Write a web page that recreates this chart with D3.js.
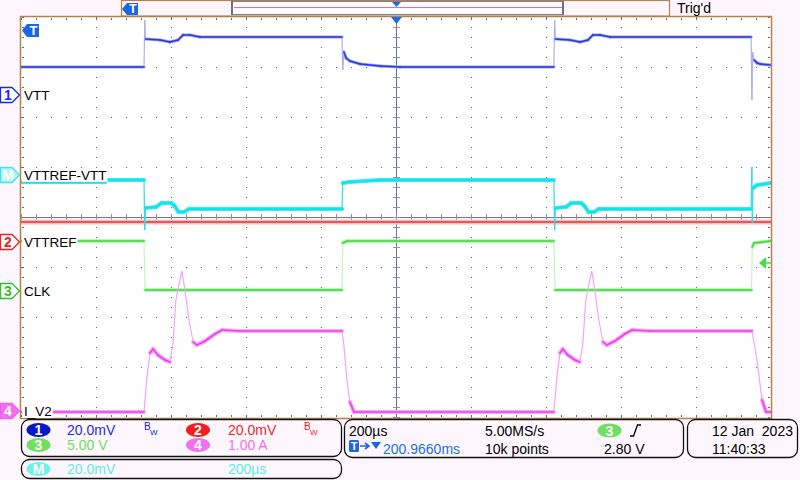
<!DOCTYPE html>
<html><head><meta charset="utf-8">
<script src="https://cdn.jsdelivr.net/npm/d3@7"></script>
<style>body{margin:0;background:#fdf7fd}svg{display:block}</style>
</head><body><svg id="c" width="800" height="480"></svg>
<script>
// ---------- data (time in µs relative to trigger, values in channel units) ----------
const timeDomain = [-1000, 1000];
const divRange = [-4, 4];
const ch1Time = [-1000,-672,-670,-668,-629,-603,-581,-568,-549,-523,-144,-142,-139,-133,-123,-96,-43,11,421,423,425,464,491,512,525,544,571,947,949,951,955,963,971,1000];
const ch1Val  = [11.2,11.2,30.0,22.4,22.0,21.2,22.0,24.0,24.0,23.2,23.2,10.0,17.2,14.8,13.6,12.4,11.6,11.2,11.2,30.0,22.4,22.0,21.2,22.0,24.0,24.0,23.2,23.2,-2.0,17.2,14.0,12.8,12.4,12.0];
const mathTime = [-1000,-776,-773,-672,-670,-668,-640,-625,-600,-590,-580,-565,-552,-144,-142,-123,-43,421,423,425,453,468,493,503,513,528,541,947,949,950,952,963,1000];
const mathVal  = [-2.8,-2.8,-2.0,-2.0,-22.0,-13.2,-12.8,-11.2,-11.2,-12.4,-14.8,-14.8,-13.6,-13.6,-3.2,-2.8,-2.0,-2.0,-22.0,-13.2,-12.8,-11.2,-11.2,-12.4,-14.8,-14.8,-13.6,-13.6,3.2,-19.2,-5.2,-4.0,-3.2];
const ch2Time = [-1000, 1000];
const ch2Val  = [8.2, 8.2];
const ch3Time = [-1000,-672,-669,-144,-142,-130,421,424,948,950,955,1000];
const ch3Val  = [5.0,5.0,0.1,0.1,4.8,5.0,5.0,0.1,0.1,4.4,4.8,5.0];
const ch4Time = [-1000,-672,-664,-656,-648,-635,-616,-603,-595,-587,-579,-571,-563,-552,-541,-531,-509,-483,-464,-416,-144,-139,-131,-123,-112,421,429,437,445,458,477,490,498,506,514,522,530,541,552,562,584,610,629,677,949,953,963,976,987,1000];
const ch4Val  = [-0.02,-0.02,0.68,1.16,1.24,1.12,1.02,0.98,1.32,2.22,2.52,2.80,2.42,1.82,1.38,1.32,1.40,1.54,1.62,1.60,1.60,1.32,0.62,0.18,-0.02,-0.02,0.68,1.16,1.24,1.12,1.02,0.98,1.32,2.22,2.52,2.80,2.42,1.82,1.38,1.32,1.40,1.54,1.62,1.60,1.60,1.45,1.00,0.22,-0.02,-0.02];
const channelNames = ["VTT","VTTREF-VTT","VTTREF","CLK","I_V2"];
const channelIds = ["1","M","2","3","4"];
const channelScales = [20, 20, 20, 5, 1];          // units per division
const channelOffsets = [2.44, 0.84, -0.51, -1.48, -3.88]; // marker position, divisions
const trigLevel = 2.80;
const scaleTexts = ["20.0mV","20.0mV","5.00 V","1.00 A"];
const mathTexts = ["20.0mV","200µs"];
const timebaseText = "200µs", delayText = "200.9660ms", rateText = "5.00MS/s", pointsText = "10k points";
const trigText = "2.80 V", dateText = "12 Jan  2023", clockText = "11:40:33";

// ---------- setup ----------
const FONT = "'Liberation Sans', Arial, sans-serif";
const svg = d3.select('#c');
const x = d3.scaleLinear().domain(timeDomain).range([21, 771]);
const y = d3.scaleLinear().domain(divRange).range([417, 17]);
const BG = '#fdf7fd', FRAME = '#b3804e', GRID = '#5d6585';

svg.append('rect').attr('width',800).attr('height',480).attr('fill',BG);
svg.append('rect').attr('x',21).attr('y',17).attr('width',750).attr('height',400).attr('fill','#fff');

// ---------- graticule ----------
const grid = svg.append('g').attr('shape-rendering','crispEdges');
const dots = [];
d3.range(-800, 801, 200).filter(t=>t!==0).forEach(t=>{
  d3.range(divRange[0], divRange[1]+0.001, 0.2).forEach(d=>dots.push([Math.round(x(t)), Math.round(y(d))]));
});
d3.range(-3, 3.001, 1).filter(d=>d!==0).forEach(d=>{
  d3.range(timeDomain[0], timeDomain[1]+0.001, 40).forEach(t=>dots.push([Math.round(x(t)), Math.round(y(d))]));
});
d3.range(timeDomain[0], timeDomain[1]+0.001, 40).forEach(t=>{
  dots.push([Math.round(x(t)), 18],[Math.round(x(t)), 19],[Math.round(x(t)), 415],[Math.round(x(t)), 416]);
});
d3.range(divRange[0], divRange[1]+0.001, 0.2).forEach(d=>{
  dots.push([22, Math.round(y(d))],[23, Math.round(y(d))],[768, Math.round(y(d))],[769, Math.round(y(d))]);
});
grid.selectAll('rect.d').data(dots).join('rect').attr('class','d')
  .attr('x',d=>d[0]).attr('y',d=>d[1]).attr('width',1).attr('height',1).attr('fill',GRID);
grid.append('line').attr('x1',21).attr('x2',771).attr('y1',y(0)+0.5).attr('y2',y(0)+0.5).attr('stroke','#6e7592');
grid.append('line').attr('x1',x(0)+0.5).attr('x2',x(0)+0.5).attr('y1',17).attr('y2',417).attr('stroke','#6e7592');
grid.selectAll('line.ht').data(d3.range(timeDomain[0], timeDomain[1]+0.001, 40)).join('line').attr('class','ht')
  .attr('x1',t=>Math.round(x(t))+0.5).attr('x2',t=>Math.round(x(t))+0.5).attr('y1',y(0)-3).attr('y2',y(0)+4).attr('stroke','#8a90a8');
grid.selectAll('line.vt').data(d3.range(divRange[0], divRange[1]+0.001, 0.2)).join('line').attr('class','vt')
  .attr('y1',d=>Math.round(y(d))+0.5).attr('y2',d=>Math.round(y(d))+0.5).attr('x1',x(0)-3).attr('x2',x(0)+4).attr('stroke','#8a90a8');

// ---------- traces ----------
svg.append('clipPath').attr('id','clip').append('rect').attr('x',21).attr('y',17).attr('width',750).attr('height',400);
const traces = svg.append('g').attr('clip-path','url(#clip)');
function drawTrace(times, vals, ci, st){
  const pts = times.map((t,i)=>[x(t), y(channelOffsets[ci] + vals[i]/channelScales[ci])]);
  const pairs = d3.pairs(pts);
  const steep = p => Math.abs(p[1][1]-p[0][1]) > 2.5*Math.abs(p[1][0]-p[0][0]) + 2;
  const flat = pairs.filter(p=>!steep(p)), edge = pairs.filter(steep);
  const g = traces.append('g');
  g.selectAll('line.b').data(flat).join('line').attr('class','b')
    .attr('x1',p=>p[0][0]).attr('y1',p=>p[0][1]).attr('x2',p=>p[1][0]).attr('y2',p=>p[1][1])
    .attr('stroke',st.band).attr('stroke-width',st.bw).attr('stroke-linecap','round');
  g.selectAll('line.e').data(edge).join('line').attr('class','e')
    .attr('x1',p=>p[0][0]).attr('y1',p=>p[0][1]).attr('x2',p=>p[1][0]).attr('y2',p=>p[1][1])
    .attr('stroke',st.edge).attr('stroke-width',1.2);
  g.selectAll('line.c').data(flat).join('line').attr('class','c')
    .attr('x1',p=>p[0][0]).attr('y1',p=>p[0][1]).attr('x2',p=>p[1][0]).attr('y2',p=>p[1][1])
    .attr('stroke',st.core).attr('stroke-width',st.cw).attr('stroke-linecap','round');
}
drawTrace(ch2Time, ch2Val, 2, {band:'#f7c0c0', bw:5, core:'#e53434', cw:1.4, edge:'#f2a0a0'});
drawTrace(ch1Time, ch1Val, 0, {band:'#9aa0f4', bw:3.2, core:'#2a3ad8', cw:1.5, edge:'#aab0f4'});
drawTrace(mathTime, mathVal, 1, {band:'#3ae8f0', bw:4.2, core:'#12e2ec', cw:1.8, edge:'#30dce8'});
drawTrace(ch3Time, ch3Val, 3, {band:'#b0f0a8', bw:3.6, core:'#3ed83a', cw:1.6, edge:'#c6f4c0'});
drawTrace(ch4Time, ch4Val, 4, {band:'#f6aaf6', bw:4.2, core:'#ec40ec', cw:1.6, edge:'#f4a4f4'});

// ---------- frame ----------
svg.append('rect').attr('x',20.5).attr('y',16.5).attr('width',751).attr('height',402)
  .attr('fill','none').attr('stroke',FRAME).attr('stroke-width',1.5);

// ---------- channel markers and labels ----------
const markerStyle = [
  {stroke:'#1a2ad8', fill:'#fff', text:'#1a2ad8'},
  {stroke:'#3fe4ea', fill:'#b6f6f8', text:'#fff'},
  {stroke:'#ee2020', fill:'#fff', text:'#ee2020'},
  {stroke:'#2cbf2c', fill:'#fff', text:'#2cbf2c'},
  {stroke:'#f060f0', fill:'#f070f0', text:'#fff'}
];
channelIds.forEach((id,i)=>{
  const yc = Math.round(y(channelOffsets[i]));
  const g = svg.append('g');
  g.append('path').attr('d',`M0.5,${yc-7.5} H12 L19.5,${yc} L12,${yc+7.5} H0.5 Z`)
    .attr('fill',markerStyle[i].fill).attr('stroke',markerStyle[i].stroke).attr('stroke-width',1.3);
  g.append('text').attr('x',8).attr('y',yc+5).attr('text-anchor','middle').attr('font-family',FONT)
    .attr('font-size',14).attr('font-weight','bold').attr('fill',markerStyle[i].text).text(id);
  const tx = 24, base = yc + 5;
  const t = g.append('text').attr('x',tx).attr('y',base).attr('font-family',FONT).attr('font-size',13.5).attr('fill','#000').text(channelNames[i]);
  const w = t.node().getComputedTextLength();
  g.insert('rect','text:last-child').attr('x',22).attr('y',base-11).attr('width',w+3).attr('height',13).attr('fill','#fff');
});

const ty = y(channelOffsets[3] + trigLevel/channelScales[3]);
svg.append('path').attr('d',`M759,${ty} L766,${ty-6} L766,${ty+6} Z`).attr('fill','#44dd44');
svg.append('line').attr('x1',765).attr('x2',772).attr('y1',ty).attr('y2',ty).attr('stroke','#44dd44').attr('stroke-width',1.5);

svg.append('path').attr('d',`M${x(0)-5},17 L${x(0)+6},17 L${x(0)+0.5},24 Z`).attr('fill','#1a6ee8');
function tIcon(px, py, h){
  const g = svg.append('g');
  g.append('path').attr('d',`M${px},${py+h/2} L${px+5},${py} H${px+h+4} V${py+h} H${px+5} Z`).attr('fill','#1a66e4');
  g.append('text').attr('x',px+5+h/2).attr('y',py+h-2).attr('text-anchor','middle').attr('font-family',FONT)
    .attr('font-weight','bold').attr('font-size',h).attr('fill','#fff').text('T');
}
tIcon(22, 24, 13);

// ---------- top record bar ----------
svg.append('rect').attr('x',121.5).attr('y',0.5).attr('width',548).attr('height',15.5).attr('fill',BG).attr('stroke',FRAME).attr('stroke-width',1.2);
svg.append('rect').attr('x',232.5).attr('y',1.5).attr('width',330).attr('height',13).attr('fill','#fff').attr('stroke','#7a7f94').attr('stroke-width',1);
svg.append('line').attr('x1',232).attr('x2',232).attr('y1',1).attr('y2',15).attr('stroke','#6a7088').attr('stroke-width',2);
svg.append('line').attr('x1',563).attr('x2',563).attr('y1',1).attr('y2',15).attr('stroke','#6a7088').attr('stroke-width',2);
svg.append('line').attr('x1',234).attr('x2',562).attr('y1',7.5).attr('y2',7.5).attr('stroke','#e264e2').attr('stroke-width',1.2);
svg.append('path').attr('d',`M${x(0)-4},2 L${x(0)+5},2 L${x(0)+0.5},7 Z`).attr('fill','#1a6ee8');
tIcon(122, 3, 12);
svg.append('text').attr('x',677).attr('y',13).attr('font-family',FONT).attr('font-size',14).attr('fill','#000').text("Trig'd");

// ---------- bottom panels ----------
function panel(x0,y0,w,h){
  svg.append('rect').attr('x',x0).attr('y',y0).attr('width',w).attr('height',h).attr('rx',8)
    .attr('fill',BG).attr('stroke','#111').attr('stroke-width',1.3);
}
function badge(cx,cy,fill,label){
  svg.append('ellipse').attr('cx',cx).attr('cy',cy).attr('rx',12).attr('ry',7).attr('fill',fill);
  svg.append('text').attr('x',cx).attr('y',cy+5).attr('text-anchor','middle').attr('font-family',FONT)
    .attr('font-size',14).attr('font-weight','bold').attr('fill','#fff').text(label);
}
function txt(tx,ty,s,c,size){
  return svg.append('text').attr('x',tx).attr('y',ty).attr('font-family',FONT).attr('font-size',size||14).attr('fill',c).text(s);
}
function bw(tx,ty,c){ txt(tx,ty,'B',c,10); txt(tx+6,ty+5,'W',c,8); }

panel(21.5,419.5,320,37);
badge(38.5,430,'#0818c8','1'); txt(67,435,scaleTexts[0],'#1830d8'); bw(144,430,'#1020d0');
badge(198,430,'#f02020','2'); txt(228,435,scaleTexts[1],'#f02828'); bw(304,430,'#e81818');
badge(38.5,445,'#70e060','3'); txt(67,450,scaleTexts[2],'#6ee060');
badge(198,445,'#f070f0','4'); txt(228,450,scaleTexts[3],'#f070f0');

panel(21.5,459.5,320,19);
badge(38.5,469,'#70f0f0','M'); txt(67,474,mathTexts[0],'#5eeaea'); txt(228,474,mathTexts[1],'#5eeaea');

panel(344.5,419.5,339,38);
txt(349,436,timebaseText,'#000');
svg.append('rect').attr('x',349).attr('y',440).attr('width',10).attr('height',12).attr('rx',1.5).attr('fill','#1a66e4');
svg.append('text').attr('x',354).attr('y',450).attr('text-anchor','middle').attr('font-family',FONT).attr('font-weight','bold').attr('font-size',11).attr('fill','#fff').text('T');
svg.append('path').attr('d','M360,446 H368 M365,443 L369,446 L365,449').attr('stroke','#1a66e4').attr('stroke-width',1.6).attr('fill','none');
svg.append('path').attr('d','M371,442 H381 L376,449 Z').attr('fill','#1a66e4');
txt(383,454,delayText,'#1a70e0');
txt(485,436,rateText,'#000');
txt(485,454,pointsText,'#000');
badge(609.5,430.5,'#70e060','3');
svg.append('path').attr('d','M630,436 H633.5 L637.5,425 H641').attr('stroke','#000').attr('stroke-width',1.3).attr('fill','none');
txt(604,454,trigText,'#000');

panel(687.5,419.5,110,38);
txt(712,436,dateText,'#000').style('white-space','pre');
txt(712,454,clockText,'#000');
</script></body></html>
